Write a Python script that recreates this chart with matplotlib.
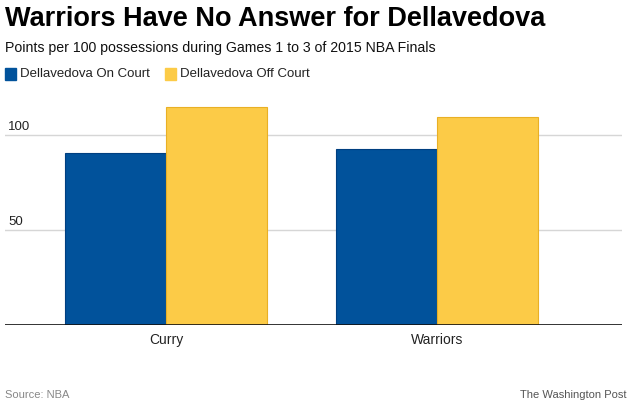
import numpy as np
import matplotlib
matplotlib.use('Agg')
import matplotlib.pyplot as plt

plt.rcParams['font.family'] = ['Liberation Sans', 'DejaVu Sans']

categories = ['Curry', 'Warriors']
on_court = [90.5, 92.6]
off_court = [114.6, 109.3]
series_names = ['Dellavedova On Court', 'Dellavedova Off Court']
yticks = [50, 100]

blue = '#01529b'
yellow = '#fccb47'

W, H = 633, 404
fig = plt.figure(figsize=(W / 100, H / 100), dpi=100)

# axes area in pixels: x 5..622, y 97..325
ax = fig.add_axes([5 / W, 1 - 325 / H, 617 / W, 228 / H])

x = np.arange(len(categories))
bw = 0.373
ax.bar(x - bw / 2, on_court, bw, color=blue, edgecolor='#003f80', linewidth=0.8, zorder=3)
ax.bar(x + bw / 2, off_court, bw, color=yellow, edgecolor='#e9b025', linewidth=0.8, zorder=3)

ax.set_xlim(-0.594, 1.683)
ax.set_ylim(0, 120)

for t in yticks:
    ax.axhline(t, color='#d6d6d6', linewidth=1, zorder=1)
    ax.text(0.005, t + 2.6, str(t), transform=ax.get_yaxis_transform(),
            fontsize=9.5, color='#222222', ha='left', va='baseline')
ax.axhline(0, color='#111111', linewidth=1.2, zorder=4)

for s in ax.spines.values():
    s.set_visible(False)
ax.set_xticks([])
ax.set_yticks([])

for xi, c in zip(x, categories):
    ax.text(xi, -4, c, ha='center', va='top', fontsize=10, color='#222222')

# title, subtitle, legend
fig.text(5 / W, 1 - 19 / H, 'Warriors Have No Answer for Dellavedova',
         fontsize=19.5, fontweight='bold', ha='left', va='center')
fig.text(5 / W, 1 - 48 / H, 'Points per 100 possessions during Games 1 to 3 of 2015 NBA Finals',
         fontsize=10.2, ha='left', va='center', color='#111111')

legend_x = [5, 165]
for lx, name, col in zip(legend_x, series_names, [blue, yellow]):
    fig.patches.append(plt.Rectangle((lx / W, 1 - 80 / H), 11 / W, 12 / H,
                                     transform=fig.transFigure, color=col))
    fig.text((lx + 15) / W, 1 - 74 / H, name, fontsize=9.5, ha='left', va='center',
             color='#222222')

fig.text(5 / W, 1 - 395 / H, 'Source: NBA', fontsize=8, color='#888888',
         ha='left', va='center')
fig.text(627 / W, 1 - 395 / H, 'The Washington Post', fontsize=8, color='#555555',
         ha='right', va='center')

fig.savefig('out.png', dpi=100)
